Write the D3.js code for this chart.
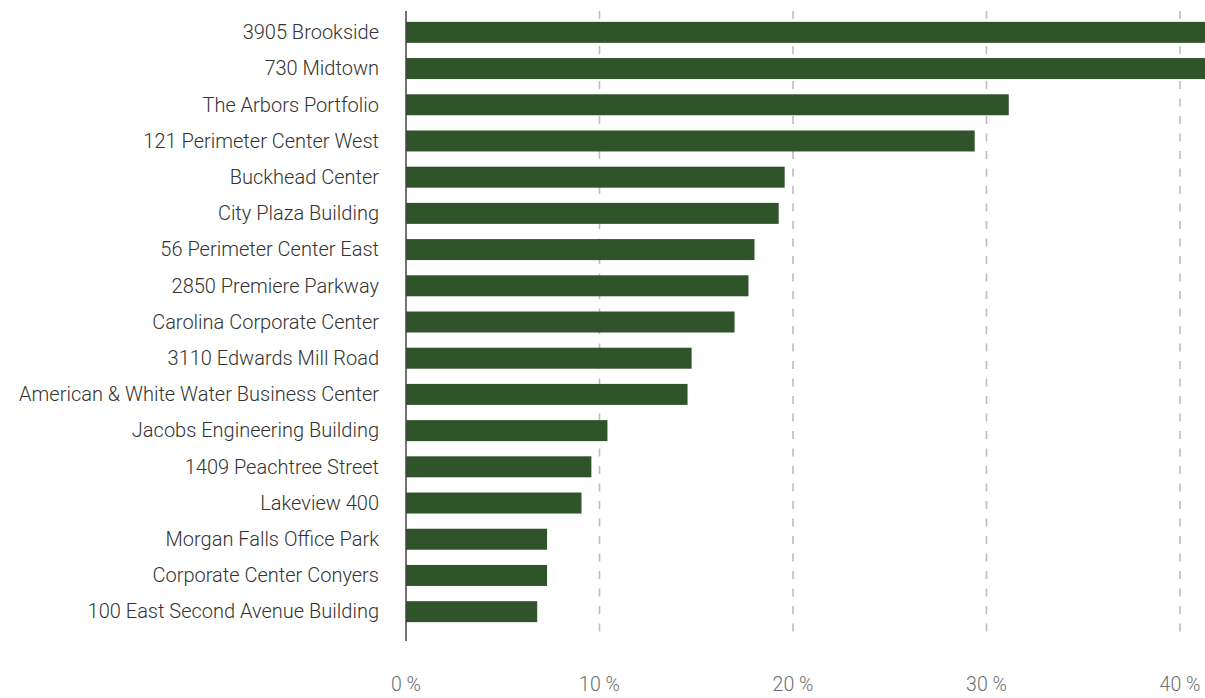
<!DOCTYPE html>
<html>
<head>
<meta charset="utf-8">
<script src="https://d3js.org/d3.v7.min.js"></script>
<style>
  html, body { margin: 0; padding: 0; background: #fff; }
  svg { display: block; font-family: Roboto, "Open Sans", sans-serif; }
</style>
</head>
<body>
<div id="chart"></div>
<script>
// property names, top to bottom
var names = [
  "3905 Brookside", "730 Midtown", "The Arbors Portfolio", "121 Perimeter Center West",
  "Buckhead Center", "City Plaza Building", "56 Perimeter Center East", "2850 Premiere Parkway",
  "Carolina Corporate Center", "3110 Edwards Mill Road", "American & White Water Business Center",
  "Jacobs Engineering Building", "1409 Peachtree Street", "Lakeview 400", "Morgan Falls Office Park",
  "Corporate Center Conyers", "100 East Second Avenue Building"
];
// share in percent (first two run off the right edge)
var values = [44.0, 43.0, 31.15, 29.39, 19.57, 19.26, 18.01, 17.70, 16.98, 14.76, 14.55,
  10.41, 9.58, 9.07, 7.29, 7.29, 6.78];
var ticks = [0, 10, 20, 30, 40];

var width = 1205, height = 698;
var plotLeft = 406, plotTop = 11, plotBottom = 641;

var svg = d3.select('#chart').append('svg').attr('width', width).attr('height', height);

var x = d3.scaleLinear().domain([0, 40]).range([plotLeft, 1180]);
var y = d3.scaleBand().domain(names).range([plotTop, 633]).paddingInner(0.42).paddingOuter(0.3);

svg.append('defs').append('clipPath').attr('id', 'plot')
  .append('rect').attr('x', plotLeft).attr('y', 0).attr('width', width - plotLeft).attr('height', height);

// dashed grid
svg.append('g').selectAll('line')
  .data(ticks.filter(function(t) { return t > 0; }))
  .enter().append('line')
  .attr('x1', function(d) { return x(d); })
  .attr('x2', function(d) { return x(d); })
  .attr('y1', plotTop).attr('y2', plotBottom)
  .attr('stroke', '#bdbdbd').attr('stroke-width', 1.6)
  .attr('stroke-dasharray', '8,9.5');

// bars
svg.append('g').attr('clip-path', 'url(#plot)')
  .selectAll('rect')
  .data(names)
  .enter().append('rect')
  .attr('x', x(0))
  .attr('y', function(d) { return y(d); })
  .attr('width', function(d, i) { return x(values[i]) - x(0); })
  .attr('height', y.bandwidth())
  .attr('fill', '#30542a');

// category labels
svg.append('g').selectAll('text')
  .data(names)
  .enter().append('text')
  .attr('x', 379)
  .attr('y', function(d) { return y(d) + y.bandwidth() / 2; })
  .attr('dy', '0.34em')
  .attr('text-anchor', 'end')
  .attr('font-size', '20px')
  .attr('font-weight', 300)
  .attr('fill', '#333')
  .text(function(d) { return d; });

// axis line
svg.append('line')
  .attr('x1', plotLeft).attr('x2', plotLeft)
  .attr('y1', plotTop).attr('y2', plotBottom)
  .attr('stroke', '#444').attr('stroke-width', 1.5);

// tick labels
svg.append('g').selectAll('text')
  .data(ticks)
  .enter().append('text')
  .attr('x', function(d) { return x(d); })
  .attr('y', 691)
  .attr('text-anchor', 'middle')
  .attr('font-size', '19.5px')
  .attr('font-weight', 300)
  .attr('fill', '#6e6e6e')
  .text(function(d) { return d + ' %'; });
</script>
</body>
</html>
